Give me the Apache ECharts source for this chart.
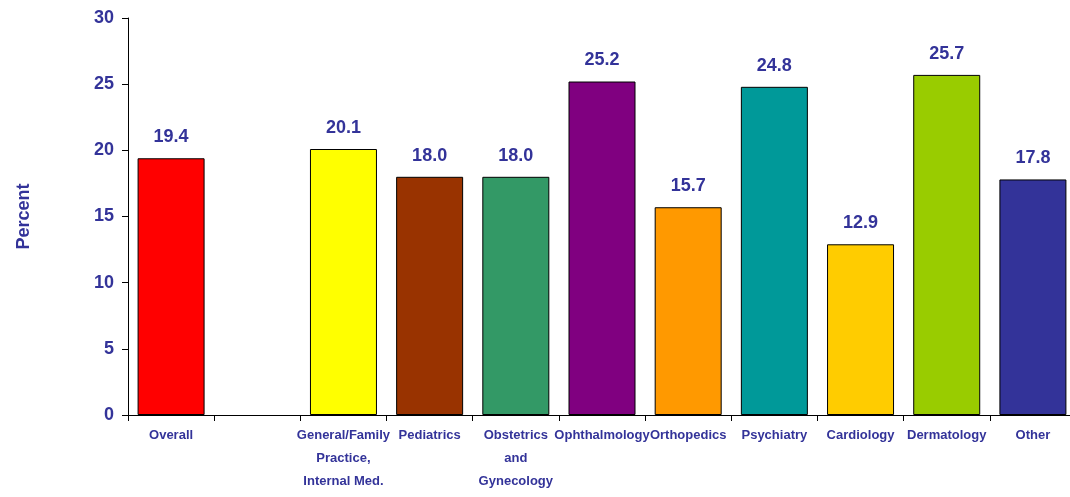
<!DOCTYPE html>
<html>
<head>
<meta charset="utf-8">
<script src="https://cdn.jsdelivr.net/npm/echarts@6/dist/echarts.min.js"></script>
<style>
html,body{margin:0;padding:0;background:#fff;overflow:hidden;width:1070px;height:497px;}
#chart{width:1090px;height:497px;}
</style>
</head>
<body>
<div id="chart"></div>
<script>
const categories = ['Overall', '', 'General/Family\nPractice,\nInternal Med.', 'Pediatrics', 'Obstetrics\nand\nGynecology', 'Ophthalmology', 'Orthopedics', 'Psychiatry', 'Cardiology', 'Dermatology', 'Other'];
const values = [19.4, null, 20.1, 18.0, 18.0, 25.2, 15.7, 24.8, 12.9, 25.7, 17.8];
const barColors = ['#FF0000', '#FFFFFF', '#FFFF00', '#993300', '#339966', '#800080', '#FF9900', '#009999', '#FFCC00', '#99CC00', '#333399'];
const yTicks = [0, 5, 10, 15, 20, 25, 30];
const yTitle = 'Percent';

const textColor = '#333399';
const font = '"Liberation Sans", Arial, sans-serif';

const chart = echarts.init(document.getElementById('chart'), null, {renderer: 'canvas'});
chart.setOption({
  animation: false,
  backgroundColor: '#ffffff',
  grid: {left: 128, top: 18, width: 948, height: 397, containLabel: false},
  xAxis: {
    type: 'category',
    data: categories,
    axisLine: {lineStyle: {color: '#000', width: 1}},
    axisTick: {show: true, length: 6, interval: 0, lineStyle: {color: '#000'}},
    axisLabel: {interval: 0, color: textColor, fontFamily: font, fontWeight: 'bold', fontSize: 13, lineHeight: 23, margin: 9}
  },
  yAxis: {
    type: 'value',
    min: yTicks[0],
    max: yTicks[yTicks.length - 1],
    interval: 5,
    name: yTitle,
    nameLocation: 'middle',
    nameGap: 95,
    nameRotate: 90,
    nameTextStyle: {color: textColor, fontFamily: font, fontWeight: 'bold', fontSize: 18},
    splitLine: {show: false},
    axisLine: {show: true, lineStyle: {color: '#000', width: 1}},
    axisTick: {show: true, length: 6, lineStyle: {color: '#000'}},
    axisLabel: {color: textColor, fontFamily: font, fontWeight: 'bold', fontSize: 18, margin: 14}
  },
  series: [{
    type: 'bar',
    barWidth: 67,
    data: values.map((v, i) => ({value: v, itemStyle: {color: barColors[i]}})),
    itemStyle: {borderColor: '#000', borderWidth: 1},
    label: {
      show: true,
      position: 'top',
      distance: 12,
      color: textColor,
      fontFamily: font,
      fontWeight: 'bold',
      fontSize: 18,
      formatter: p => p.value == null ? '' : p.value.toFixed(1)
    }
  }]
});
</script>
</body>
</html>
